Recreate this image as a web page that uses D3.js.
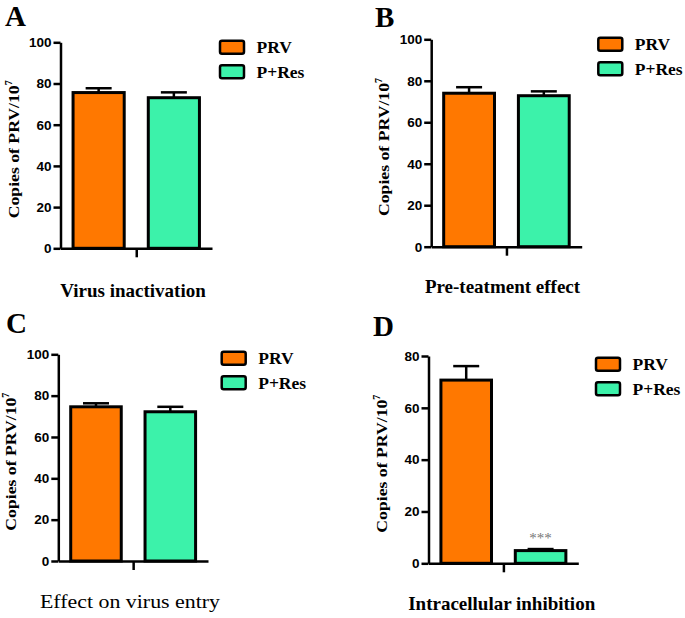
<!DOCTYPE html>
<html>
<head>
<meta charset="utf-8">
<script src="https://cdn.jsdelivr.net/npm/d3@7"></script>
<style>
body { margin: 0; background: #fff; }
</style>
</head>
<body>
<div id="figure"></div>
<script>
// values (copies of PRV / 10^7)
const groups = ["PRV", "P+Res"];
const panelLetters = ["A", "B", "C", "D"];
const panelTitles = ["Virus inactivation", "Pre-teatment effect", "Effect on virus entry", "Intracellular inhibition"];
const prvMeans = [75.6, 74.0, 74.6, 70.7];
const prvErrors = [2.1, 2.9, 1.7, 5.4];
const resMeans = [73.1, 72.8, 72.2, 4.9];
const resErrors = [2.6, 2.1, 2.4, 0.6];
const yMaxes = [100, 100, 100, 80];
const starLabels = ["", "", "", "***"];

const fills = ["#ff7800", "#3cf2aa"];

// where each small chart sits on the page
const layout = [
	{ ax: 60.5, xEnd: 212, top: 42.3, bottom: 248.3, legX: 220, legY: 40.7, letX: 5, letY: 26, labX: 133, labY: 297, bold: true },
	{ ax: 431.2, xEnd: 581.7, top: 39.3, bottom: 246.7, legX: 598.3, legY: 37.7, letX: 375, letY: 27, labX: 502.5, labY: 293, bold: true },
	{ ax: 58.3, xEnd: 208, top: 354.3, bottom: 561, legX: 221.7, legY: 351.7, letX: 6, letY: 333, labX: 130, labY: 608, bold: false },
	{ ax: 428.5, xEnd: 578.3, top: 356, bottom: 563.3, legX: 596, legY: 357.7, letX: 373, letY: 336, labX: 501.7, labY: 610, bold: true }
];

const serif = "'Liberation Serif', 'Times New Roman', serif";
const sans = "'Liberation Sans', Arial, sans-serif";

const svg = d3.select("#figure").append("svg")
	.attr("width", 685)
	.attr("height", 618);

panelLetters.forEach((letter, i) => {
	const L = layout[i];
	const g = svg.append("g");
	const rows = groups.map((name, j) => ({
		name: name,
		mean: j === 0 ? prvMeans[i] : resMeans[i],
		err: j === 0 ? prvErrors[i] : resErrors[i],
		fill: fills[j]
	}));

	const y = d3.scaleLinear().domain([0, yMaxes[i]]).range([L.bottom, L.top]);
	const x = d3.scaleBand().domain(groups).range([L.ax, L.xEnd])
		.paddingInner(0.32).paddingOuter(0.167);

	// bars
	g.selectAll("rect.bar").data(rows).enter().append("rect")
		.attr("class", "bar")
		.attr("x", d => x(d.name))
		.attr("y", d => y(d.mean))
		.attr("width", x.bandwidth())
		.attr("height", d => y(0) - y(d.mean))
		.attr("fill", d => d.fill)
		.attr("stroke", "#000")
		.attr("stroke-width", 3);

	// error bars (upper only)
	const capW = 26;
	g.selectAll("line.err").data(rows).enter().append("line")
		.attr("x1", d => x(d.name) + x.bandwidth() / 2)
		.attr("x2", d => x(d.name) + x.bandwidth() / 2)
		.attr("y1", d => y(d.mean))
		.attr("y2", d => y(d.mean + d.err))
		.attr("stroke", "#000").attr("stroke-width", 2.5);
	g.selectAll("line.cap").data(rows).enter().append("line")
		.attr("x1", d => x(d.name) + x.bandwidth() / 2 - capW / 2)
		.attr("x2", d => x(d.name) + x.bandwidth() / 2 + capW / 2)
		.attr("y1", d => y(d.mean + d.err))
		.attr("y2", d => y(d.mean + d.err))
		.attr("stroke", "#000").attr("stroke-width", 2.5);

	if (starLabels[i]) {
		g.append("text")
			.attr("x", x("P+Res") + x.bandwidth() / 2)
			.attr("y", y(resMeans[i] + resErrors[i]) - 6)
			.attr("text-anchor", "middle")
			.attr("font-family", serif)
			.attr("font-size", 15)
			.attr("fill", "#777")
			.text(starLabels[i]);
	}

	// axes
	const yAxis = g.append("g")
		.attr("transform", `translate(${L.ax},0)`)
		.call(d3.axisLeft(y).tickValues(d3.range(0, yMaxes[i] + 1, 20))
			.tickSize(7).tickSizeOuter(0).tickPadding(2));
	yAxis.select(".domain").attr("stroke-width", 2.5);
	yAxis.selectAll(".tick line").attr("stroke-width", 2.5);
	yAxis.selectAll(".tick text")
		.attr("font-family", sans)
		.attr("font-weight", "bold")
		.attr("font-size", 13.5)
		.attr("fill", "#000");

	const mid = d3.scalePoint().domain([""]).range([L.ax, L.xEnd]).padding(0.5);
	const xAxis = g.append("g")
		.attr("transform", `translate(0,${L.bottom})`)
		.call(d3.axisBottom(mid).tickSize(9).tickSizeOuter(0));
	xAxis.select(".domain").attr("stroke-width", 2.5);
	xAxis.selectAll(".tick line").attr("stroke-width", 2.5);

	// y label
	const yl = g.append("text")
		.attr("transform", `translate(${L.ax - 42},${(L.top + L.bottom) / 2 + 4}) rotate(-90)`)
		.attr("text-anchor", "middle")
		.attr("font-family", serif)
		.attr("font-weight", "bold")
		.attr("font-size", 15.5);
	yl.append("tspan")
		.attr("textLength", 133)
		.attr("lengthAdjust", "spacingAndGlyphs")
		.text("Copies of PRV/10");
	yl.append("tspan").attr("dy", -7).attr("font-size", 10).text("7");

	// x label
	const xl = g.append("text")
		.attr("x", L.labX)
		.attr("y", L.labY)
		.attr("text-anchor", "middle")
		.attr("font-family", serif)
		.attr("font-weight", L.bold ? "bold" : "normal")
		.attr("font-size", 19)
		.text(panelTitles[i]);
	if (!L.bold) xl.attr("textLength", 180).attr("lengthAdjust", "spacingAndGlyphs");

	// panel letter
	g.append("text")
		.attr("x", L.letX)
		.attr("y", L.letY)
		.attr("font-family", serif)
		.attr("font-weight", "bold")
		.attr("font-size", 29)
		.text(letter);

	// legend
	const leg = g.selectAll("g.leg").data(rows).enter().append("g")
		.attr("transform", (d, j) => `translate(${L.legX},${L.legY + j * 24.5})`);
	leg.append("rect")
		.attr("width", 24)
		.attr("height", 13)
		.attr("rx", 2)
		.attr("fill", d => d.fill)
		.attr("stroke", "#000")
		.attr("stroke-width", 2.5);
	leg.append("text")
		.attr("x", 36.5)
		.attr("y", 12.5)
		.attr("font-family", serif)
		.attr("font-weight", "bold")
		.attr("font-size", 17.5)
		.text(d => d.name);
});
</script>
</body>
</html>
